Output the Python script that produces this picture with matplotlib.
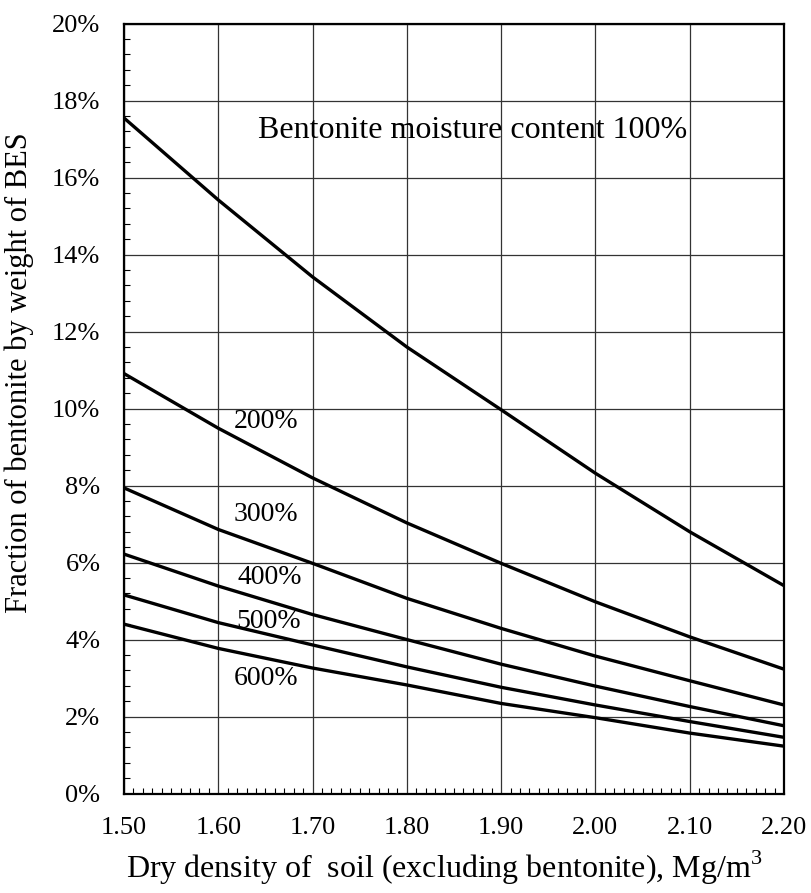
import numpy as np
import matplotlib.pyplot as plt
from matplotlib.ticker import MultipleLocator, FuncFormatter

plt.rcParams["font.family"] = ["Liberation Serif", "DejaVu Serif"]
plt.rcParams["mathtext.fontset"] = "custom"
plt.rcParams["mathtext.rm"] = "Liberation Serif"

# densidad seca del suelo (Mg/m3)
DENSIDAD = [1.50, 1.60, 1.70, 1.80, 1.90, 2.00, 2.10, 2.20]

# fraccion de bentonita (%) para cada contenido de humedad
F_100 = [17.55, 15.42, 13.42, 11.60, 9.97, 8.32, 6.80, 5.40]
F_200 = [10.91, 9.49, 8.20, 7.03, 5.98, 4.98, 4.07, 3.23]
F_300 = [7.94, 6.86, 5.98, 5.07, 4.29, 3.57, 2.93, 2.30]
F_400 = [6.22, 5.39, 4.65, 4.00, 3.36, 2.79, 2.26, 1.76]
F_500 = [5.16, 4.44, 3.86, 3.29, 2.76, 2.30, 1.87, 1.46]
F_600 = [4.40, 3.77, 3.26, 2.82, 2.34, 1.97, 1.57, 1.23]

CURVAS = [F_100, F_200, F_300, F_400, F_500, F_600]

# etiquetas de cada curva: (texto, x, y, tamano)
ETIQUETAS = [
    ("Bentonite moisture content 100%", 1.642, 17.22, 23),
    ("200%", 1.616, 9.66, 20),
    ("300%", 1.616, 7.26, 20),
    ("400%", 1.620, 5.60, 20),
    ("500%", 1.619, 4.48, 20),
    ("600%", 1.616, 2.98, 20),
]

fig = plt.figure(figsize=(8.12, 8.93), dpi=100)
ax = fig.add_axes([0.1527, 0.1114, 0.8128, 0.8621])

for f in CURVAS:
    ax.plot(DENSIDAD, f, color="black", lw=2.4, solid_capstyle="butt")

for texto, x, y, tam in ETIQUETAS:
    ax.text(x, y, texto, fontsize=tam, ha="left", va="center")

ax.set_xlim(1.50, 2.20)
ax.set_ylim(0, 20)
ax.xaxis.set_major_locator(MultipleLocator(0.10))
ax.xaxis.set_minor_locator(MultipleLocator(0.01))
ax.yaxis.set_major_locator(MultipleLocator(2))
ax.yaxis.set_minor_locator(MultipleLocator(0.4))
ax.xaxis.set_major_formatter(FuncFormatter(lambda v, p: f"{v:.2f}"))
ax.yaxis.set_major_formatter(FuncFormatter(lambda v, p: f"{v:.0f}%"))

ax.tick_params(which="major", length=0, labelsize=19, pad=17)
ax.tick_params(which="minor", direction="in", length=4, width=0.8)
ax.grid(which="major", color="#333333", lw=0.9)

for s in ax.spines.values():
    s.set_linewidth(1.6)

ax.set_xlabel(r"Dry density of  soil (excluding bentonite), Mg/m$^\mathrm{3}$", fontsize=23, va="center")
ax.set_ylabel("Fraction of bentonite by weight of BES", fontsize=22, va="center")
ax.xaxis.set_label_coords(0.485, -0.097)
ax.yaxis.set_label_coords(-0.158, 0.547)

plt.savefig("out.png", dpi=100)
